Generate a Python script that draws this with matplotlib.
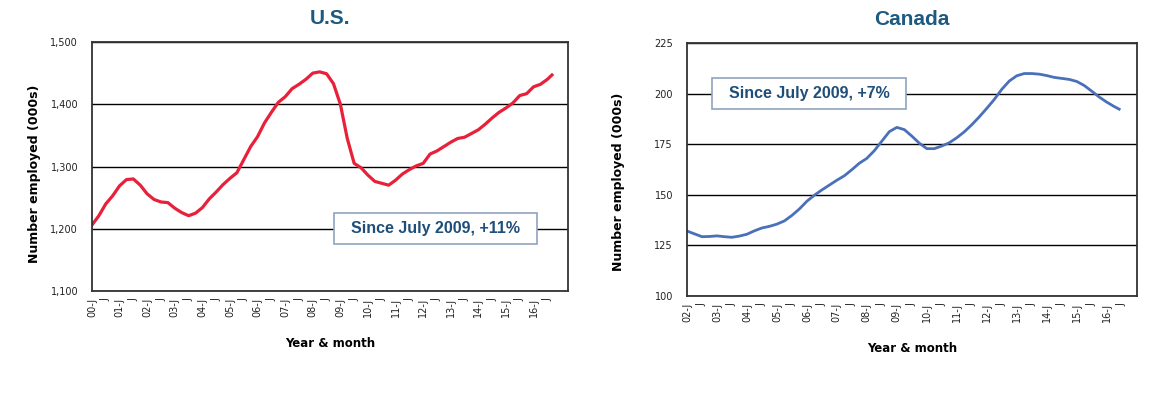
import matplotlib
matplotlib.use("Agg")
import matplotlib.pyplot as plt
from matplotlib.ticker import FuncFormatter

# U.S. - months since Jan 2000, employment (000s)
us_month = list(range(0, 199, 3)) + [200]
us_emp = [1206, 1221, 1240, 1253, 1269, 1279, 1280, 1270, 1256, 1247,
          1243, 1242, 1233, 1226, 1221, 1225, 1234, 1248, 1259, 1271,
          1281, 1290, 1311, 1332, 1348, 1370, 1387, 1403, 1412, 1425,
          1432, 1440, 1450, 1452, 1449, 1433, 1400, 1345, 1305, 1298,
          1286, 1276, 1273, 1270, 1278, 1288, 1295, 1301, 1305, 1320,
          1325, 1332, 1339, 1345, 1347, 1353, 1359, 1368, 1378, 1387,
          1394, 1402, 1414, 1417, 1428, 1432, 1440, 1447]

# Canada - months since Jan 2002
ca_month = list(range(0, 172, 3)) + [173]
ca_emp = [132.1, 130.7, 129.3, 129.4, 129.7, 129.3, 129.0, 129.6, 130.5, 132.2,
          133.6, 134.4, 135.5, 137.1, 139.8, 143.0, 146.8, 149.8, 152.4, 154.8,
          157.2, 159.4, 162.4, 165.6, 168.0, 171.8, 176.5, 181.2, 183.3, 182.2,
          179.0, 175.5, 172.8, 172.8, 174.1, 175.7, 178.2, 181.1, 184.6, 188.5,
          192.7, 197.1, 202.1, 206.2, 208.8, 209.9, 209.9, 209.6, 208.9, 208.0,
          207.5, 207.0, 206.0, 204.0, 201.2, 198.3, 195.8, 193.6, 192.3]

us_years = list(range(0, 17))
ca_years = list(range(2, 17))

title_col = "#1d5a80"
box_col = "#1f4e79"


def tick_labels(years):
    labs = []
    for y in years:
        labs.append("%02d-J" % y)
        labs.append("J")
    return labs


def style_axis(ax, title, years, xmax, ylim, yticks, fmt):
    ax.set_xlim(0, xmax)
    ax.set_ylim(*ylim)
    ax.set_yticks(yticks)
    ax.yaxis.set_major_formatter(FuncFormatter(fmt))
    ax.set_xticks([6 * i for i in range(2 * len(years))])
    ax.set_xticklabels(tick_labels(years), rotation=90, va="top")
    ax.tick_params(axis="both", length=0, labelsize=7, colors="#222222")
    ax.tick_params(axis="y", pad=10)
    ax.tick_params(axis="x", pad=5)
    ax.grid(axis="y", color="black", lw=1)
    ax.set_axisbelow(True)
    for s in ax.spines.values():
        s.set_color("#333333")
        s.set_linewidth(1.3)
    ax.set_title(title, fontsize=15, fontweight="bold", color=title_col,
                 family="Liberation Sans", pad=13)
    ax.set_ylabel("Number employed (000s)", fontsize=9, fontweight="bold")
    ax.set_xlabel("Year & month", fontsize=8.5, fontweight="bold", labelpad=14)


fig = plt.figure(figsize=(11.6, 3.98), dpi=100)
ax1 = fig.add_axes([0.0793, 0.2688, 0.4104, 0.6257])
ax2 = fig.add_axes([0.5922, 0.2563, 0.3877, 0.6357])

ax1.plot(us_month, us_emp, color="#e8203a", lw=2.3, solid_joinstyle="round")
style_axis(ax1, "U.S.", us_years, 207, (1100, 1500),
           [1100, 1200, 1300, 1400, 1500], lambda v, p: "{:,.0f}".format(v))
ax1.yaxis.set_label_coords(-0.108, 0.47)

ax2.plot(ca_month, ca_emp, color="#4a70b8", lw=2.0)
style_axis(ax2, "Canada", ca_years, 180, (100, 225),
           [100, 125, 150, 175, 200, 225], lambda v, p: "%d" % v)
ax2.yaxis.set_label_coords(-0.138, 0.45)

box = dict(boxstyle="square,pad=0.5", fc="white", ec="#8fa3bf", lw=1.2)
ax1.text(149.5, 1200, "  Since July 2009, +11%  ", ha="center", va="center",
         fontsize=11.5, fontweight="bold", color=box_col,
         family="Liberation Sans", bbox=box, zorder=5)
ax2.text(48.8, 200, "  Since July 2009, +7%  ", ha="center", va="center",
         fontsize=11.5, fontweight="bold", color=box_col,
         family="Liberation Sans", bbox=box, zorder=5)

plt.savefig("out.png", dpi=100)
